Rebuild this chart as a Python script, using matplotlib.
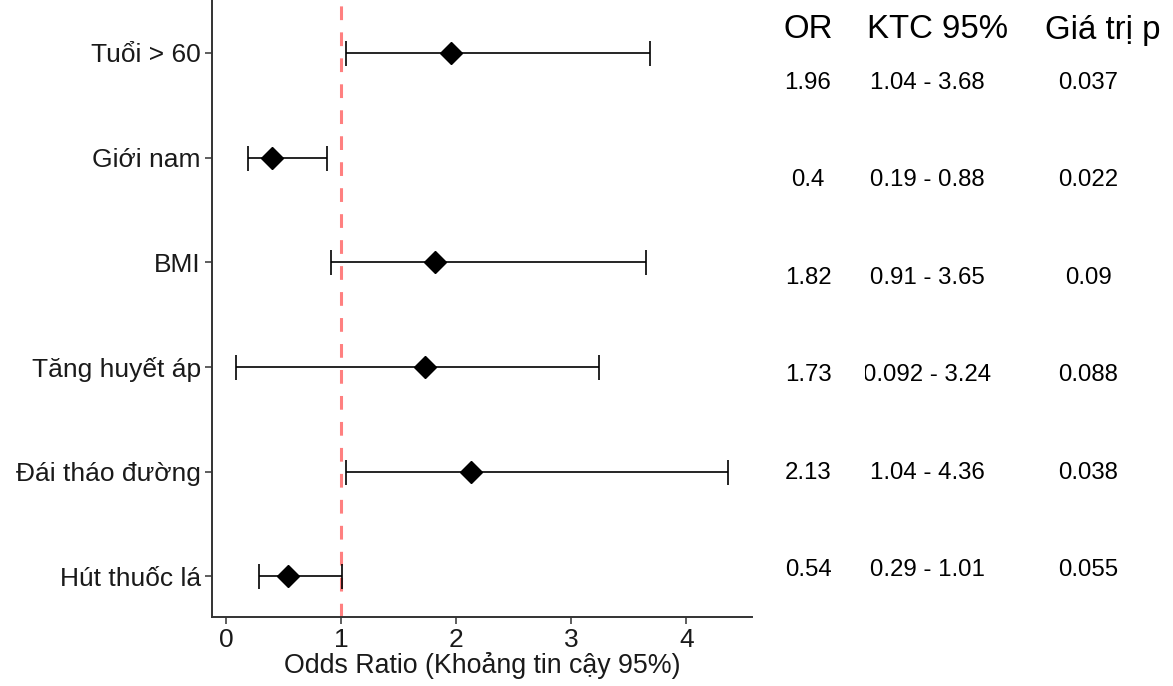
import matplotlib
matplotlib.use("Agg")
import matplotlib.pyplot as plt

plt.rcParams['font.family'] = ['Liberation Sans', 'DejaVu Sans']

labels = ["Tuổi > 60", "Giới nam", "BMI", "Tăng huyết áp", "Đái tháo đường", "Hút thuốc lá"]
or_vals = [1.96, 0.40, 1.82, 1.73, 2.13, 0.54]
ci_low = [1.04, 0.19, 0.91, 0.092, 1.04, 0.29]
ci_high = [3.68, 0.88, 3.65, 3.24, 4.36, 1.01]
or_text = ["1.96", "0.4", "1.82", "1.73", "2.13", "0.54"]
ci_text = ["1.04 - 3.68", "0.19 - 0.88", "0.91 - 3.65", "0.092 - 3.24", "1.04 - 4.36", "0.29 - 1.01"]
p_text = ["0.037", "0.022", "0.09", "0.088", "0.038", "0.055"]
headers = ["OR", "KTC 95%", "Giá trị p"]
x_ticks = [0, 1, 2, 3, 4]

W, H = 1173, 686
fig = plt.figure(figsize=(W / 100, H / 100), dpi=100)

def px_axes(x0, y0, x1, y1):
    return fig.add_axes([x0 / W, 1 - y1 / H, (x1 - x0) / W, (y1 - y0) / H])

n = len(labels)
ypos = list(range(n, 0, -1))

# main forest plot
ax = px_axes(212, -9.8, 752, 617)
ax.set_ylim(0.61, n + 0.6)
ax.set_xlim(-0.12, 4.57)
ax.axvline(1, color='#FF8080', lw=2.2, ls=(0, (4.5, 4)), zorder=1)
xerr = [[o - l for o, l in zip(or_vals, ci_low)], [h - o for o, h in zip(or_vals, ci_high)]]
ax.errorbar(or_vals, ypos, xerr=xerr, fmt='none', ecolor='black', elinewidth=1.2,
            capsize=9, capthick=1.2, zorder=2)
ax.plot(or_vals, ypos, 'D', color='black', ms=11.5, zorder=3)
ax.set_yticks(ypos)
ax.set_yticklabels(labels, fontsize=19, color='#1a1a1a')
ax.set_xticks(x_ticks)
ax.set_xticklabels([str(t) for t in x_ticks], fontsize=19, color='#1a1a1a')
ax.set_xlabel("Odds Ratio (Khoảng tin cậy 95%)", fontsize=19.3, color='#1a1a1a', labelpad=0)
for s in ['top', 'right']:
    ax.spines[s].set_visible(False)
for s in ['left', 'bottom']:
    ax.spines[s].set_color('#333333')
    ax.spines[s].set_linewidth(1.4)
ax.tick_params(axis='both', length=5, width=1.1, color='#333333', pad=3)

# table columns
top_y, bot_y = 83, 570
span = (bot_y - top_y) / (n - 1)

def col_axes(x0, x1):
    a = px_axes(x0, top_y - span * 0.5, x1, bot_y + span * 0.5)
    a.set_ylim(0.5, n + 0.5)
    a.set_xlim(x0, x1)
    a.axis('off')
    return a

ax_or = col_axes(770, 860)
ax_ci = col_axes(865, 1010)
ax_p = col_axes(1020, 1173)

for i, y in enumerate(ypos):
    ax_or.text(808, y, or_text[i], ha='center', va='center', fontsize=17.3, clip_on=True)
    ax_ci.text(927, y, ci_text[i], ha='center', va='center', fontsize=17.3, clip_on=True)
    ax_p.text(1088, y, p_text[i], ha='center', va='center', fontsize=17.3, clip_on=True)

hy = 1 - 30 / H
fig.text(808 / W, hy, headers[0], ha='center', va='center', fontsize=23.8)
fig.text(937 / W, hy, headers[1], ha='center', va='center', fontsize=23.8)
fig.text(1103 / W, hy, headers[2], ha='center', va='center', fontsize=23.8)

fig.savefig("out.png", dpi=100, facecolor='white')
